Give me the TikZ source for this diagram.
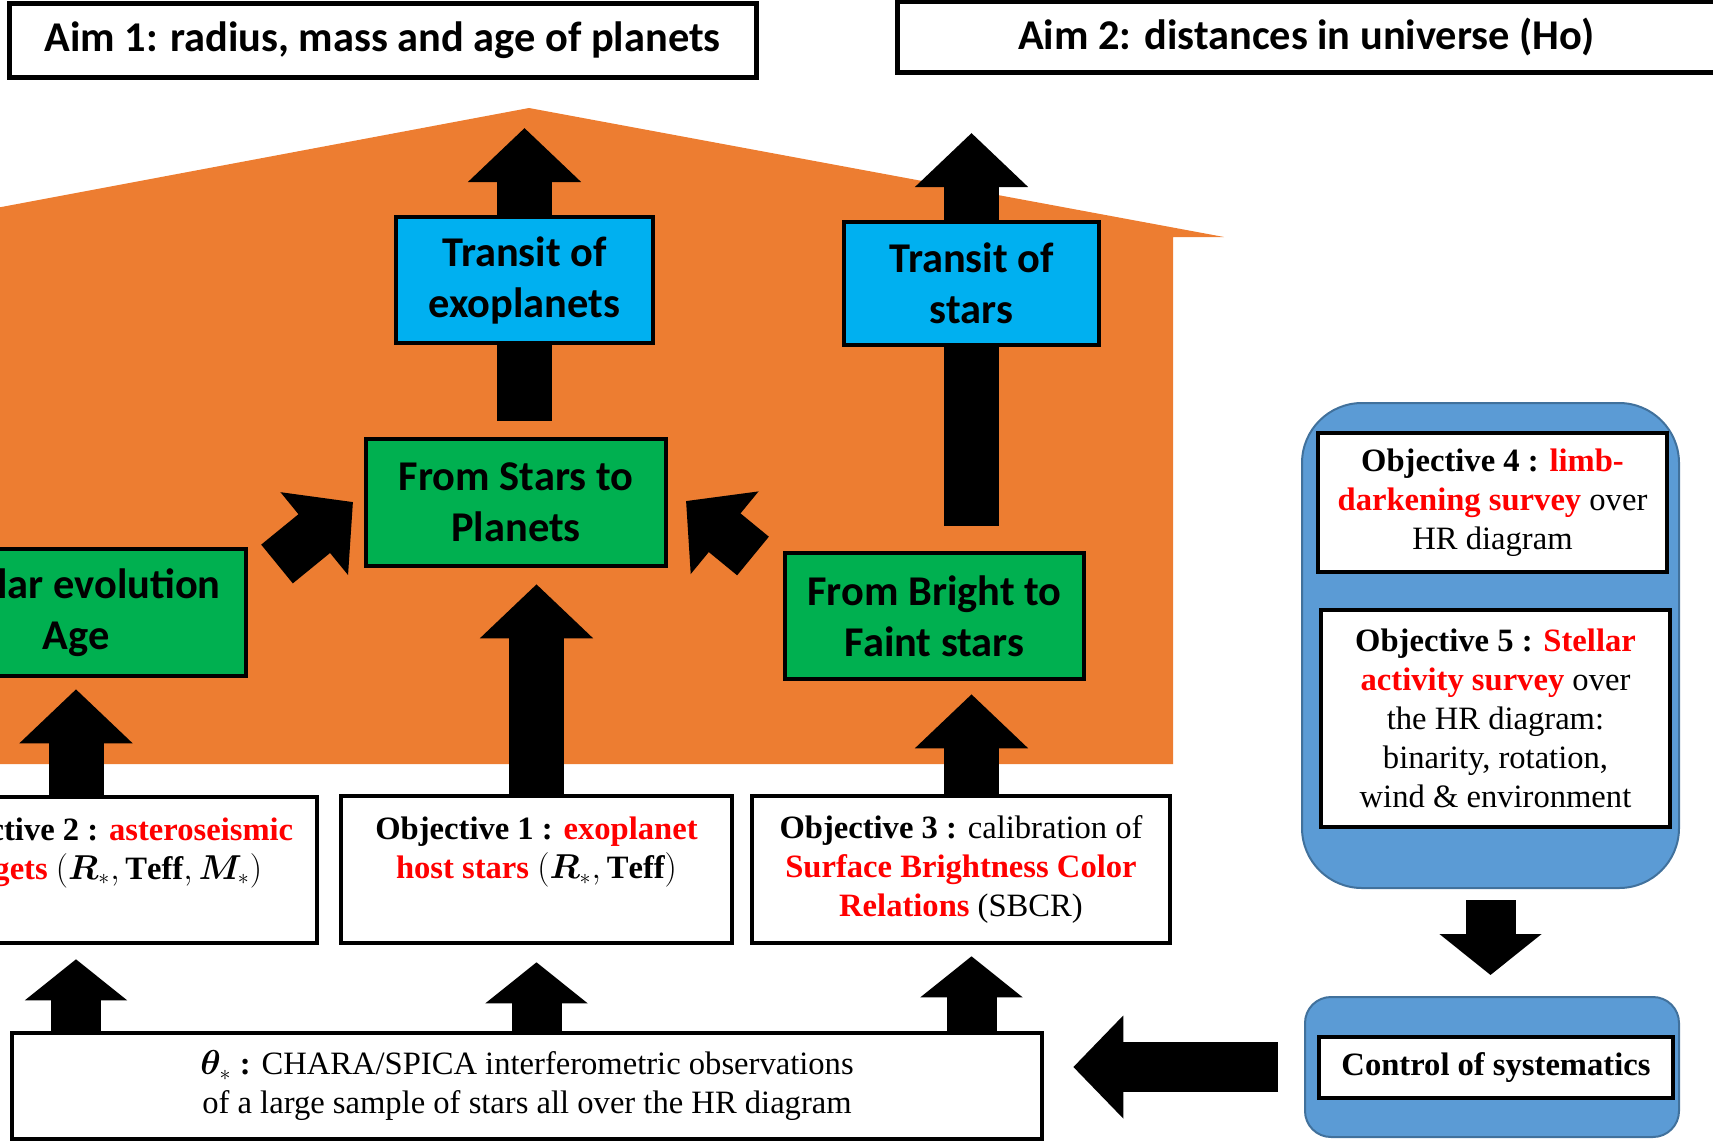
\documentclass[tikz,border=0pt]{standalone}
\usepackage{amsmath}
\usepackage{bm}
\usepackage{fontspec}
\setmainfont{Liberation Serif}
\newfontfamily\calibri{Carlito}
\usetikzlibrary{arrows.meta}

\definecolor{houseor}{HTML}{ED7D31}
\definecolor{transitblue}{HTML}{00B0F0}
\definecolor{stepgreen}{HTML}{00B050}
\definecolor{panelblue}{HTML}{5B9BD5}
\definecolor{paneledge}{HTML}{41719C}

\newcommand{\hl}[1]{\textcolor{red}{\textbf{#1}}}

\begin{document}
\begin{tikzpicture}[x=0.5pt,y=-0.5pt,
  aim/.style={draw=black, line width=2.5pt, fill=white, inner sep=0pt,
              font={\calibri\bfseries\fontsize{21.2}{25.5}\selectfont}},
  stepbox/.style={draw=black, line width=2.25pt, align=center, inner sep=0pt,
              font={\calibri\bfseries\fontsize{21.2}{25.5}\selectfont}},
  objbox/.style={draw=black, line width=2.25pt, fill=white, align=center, inner sep=0pt,
              font={\fontsize{16.3}{19.5}\selectfont}},
  panel/.style={draw=paneledge, line width=1pt, fill=panelblue},
  blk/.style={line width=27.5pt, -{Triangle[length=27pt,width=55pt]}},
  blksm/.style={line width=25pt, -{Triangle[length=20.5pt,width=50pt]}},
  bar/.style={line width=27.5pt}]

\useasboundingbox (0,0) rectangle (1713,1141);

% house
\fill[houseor] (-20,211) -- (529,108) -- (1224,237) -- (1173,237)
      -- (1173,764) -- (-20,764) -- cycle;

% aims
\node[aim, minimum width=373.5pt, minimum height=37pt] (aim1) at (382.5,40)
      {Aim 1: radius, mass and age of planets};
\node[aim, minimum width=409.5pt, minimum height=35.5pt] (aim2) at (1306.5,36.5)
      {Aim 2: distances in universe (Ho)};

% results
\node[stepbox, fill=transitblue, minimum width=128.5pt, minimum height=63pt]
      (tex) at (524.5,280) {Transit of\\exoplanets};
\node[stepbox, fill=transitblue, minimum width=127.5pt, minimum height=61.5pt]
      (tst) at (971.5,283.5) {Transit of\\stars};
\node[stepbox, fill=stepgreen, minimum width=150pt, minimum height=63.5pt]
      (stp) at (516,502.5) {From Stars to\\Planets};
\node[stepbox, fill=stepgreen, minimum width=170pt, minimum height=63.5pt]
      (sev) at (76,612.5) {Stellar evolution\\Age};
\node[stepbox, fill=stepgreen, minimum width=149.5pt, minimum height=63pt]
      (fbf) at (934.5,616) {From Bright to\\Faint stars};

% objectives
\node[objbox, minimum width=210pt, minimum height=73pt] (ob2) at (107,870)
      {\textbf{Objective 2 :} \hl{asteroseismic}\\
       \hl{targets} $(\bm{R}_*, \mathbf{Teff}, \bm{M}_*)$\\[2pt] ~};
\node[objbox, minimum width=195.5pt, minimum height=73.5pt] (ob1) at (536.5,869.5)
      {\textbf{Objective 1 :} \hl{exoplanet}\\
       \hl{host stars} $(\bm{R}_*, \mathbf{Teff})$\\[2pt] ~};
\node[objbox, minimum width=209pt, minimum height=73.5pt] (ob3) at (961,869.5)
      {\textbf{Objective 3 :} calibration of\\
       \hl{Surface Brightness Color}\\
       \hl{Relations} (SBCR)};
\node[objbox, minimum width=515pt, minimum height=53pt] (tha) at (527,1086)
      {$\bm{\theta}_*$ \textbf{:} CHARA/SPICA interferometric observations\\
       of a large sample of stars all over the HR diagram};

% right panels
\node[panel, rounded corners=30pt, minimum width=188.5pt, minimum height=242.5pt]
      (c45) at (1490.5,645.5) {};
\node[objbox, minimum width=174.5pt, minimum height=69.5pt] (ob4) at (1492.5,502.5)
      {\textbf{Objective 4 :} \hl{limb-}\\
       \hl{darkening survey} over\\ HR diagram};
\node[objbox, minimum width=174.5pt, minimum height=108.5pt] (ob5) at (1495.5,718.5)
      {\textbf{Objective 5 :} \hl{Stellar}\\
       \hl{activity survey} over\\ the HR diagram:\\
       binarity, rotation,\\ wind \& environment};
\node[panel, rounded corners=13pt, minimum width=187pt, minimum height=70pt]
      (cct) at (1492,1067) {};
\node[objbox, minimum width=177pt, minimum height=30.5pt] (ctl) at (1496,1067.5)
      {\textbf{Control of systematics}};

% free ends
\coordinate (texup) at (524.5,128);
\coordinate (tstup) at (971.5,133);
\coordinate (ob3up) at (ob3.north -| tst.south);
\coordinate (fbfdn) at (fbf.south -| tst.south);
\coordinate (lt1) at (277,564);
\coordinate (lt2) at (353,502);
\coordinate (rt1) at (753,556);
\coordinate (rt2) at (686,501);

% arrows in the house
\draw[blk] (tex.north) -- (texup);
\draw[blk] (tst.north) -- (tstup);
\draw[bar, shorten <=8pt] (stp.north -| tex.south) -- (tex.south);
\draw[bar, shorten <=12.5pt] (fbf.north -| tst.south) -- (tst.south);
\draw[blk, shorten >=8pt] (ob1.north) -- (ob1.north |- stp.south);
\draw[blk, shorten >=5.5pt] (ob2.north -| sev.south) -- (sev.south);
\draw[blk, shorten >=6.5pt] (ob3up) -- (fbfdn);
\draw[line width=25pt, -{Triangle[length=25pt,width=52pt]}] (lt1) -- (lt2);
\draw[line width=25pt, -{Triangle[length=25pt,width=52pt]}] (rt1) -- (rt2);

% arrows from the observations
\draw[blksm, shorten >=7pt] (tha.north -| sev.south) -- (ob2.south -| sev.south);
\draw[blksm, shorten >=8.5pt] (tha.north -| ob1.south) -- (ob1.south);
\draw[blksm, shorten >=5.5pt] (tha.north -| tst.south) -- (ob3.south -| tst.south);

% systematics
\draw[blksm, shorten <=5.5pt, shorten >=10.5pt] (c45.south) -- (c45.south |- cct.north);
\draw[blksm, -{Triangle[length=25pt,width=50pt]}, shorten <=13pt, shorten >=14.5pt]
      (cct.west) -- (tha.east |- cct.west);

\end{tikzpicture}
\end{document}
